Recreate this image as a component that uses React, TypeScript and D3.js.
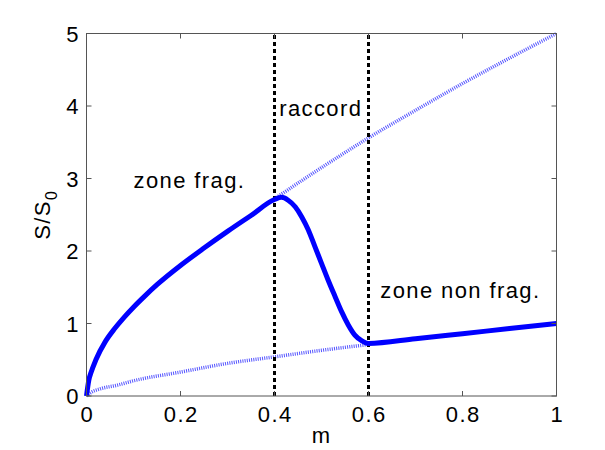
import React from "react";
import * as d3 from "d3";

// Data
const mFrag = [0, 0.005, 0.01, 0.02, 0.04, 0.06, 0.08, 0.1, 0.125, 0.15, 0.2, 0.25, 0.3, 0.35, 0.4];
const sFrag = [0, 0.22, 0.33, 0.5, 0.75, 0.93, 1.085, 1.225, 1.385, 1.535, 1.8, 2.04, 2.27, 2.49, 2.71];

const mRaccord = [0.415, 0.429, 0.444, 0.458, 0.472, 0.486, 0.5, 0.514, 0.529, 0.543, 0.557, 0.571, 0.586, 0.6];
const sRaccord = [2.74, 2.7, 2.61, 2.47, 2.29, 2.06, 1.83, 1.6, 1.37, 1.16, 0.98, 0.84, 0.76, 0.725];

const mNonFrag = [0.7, 0.8, 0.9, 1.0];
const sNonFrag = [0.79, 0.86, 0.93, 1.0];

const mUpper = [0.4, 0.5, 0.6, 0.7, 0.8, 0.9, 1.0];
const sUpper = [2.72, 3.15, 3.56, 3.94, 4.31, 4.66, 5.0];

const mLower = [0, 0.01, 0.03, 0.066, 0.1, 0.2, 0.3, 0.4, 0.5, 0.6];
const sLower = [0, 0.05, 0.1, 0.15, 0.21, 0.33, 0.45, 0.54, 0.63, 0.71];

const boundaries = [0.4, 0.6];
const xTicks = [0, 0.2, 0.4, 0.6, 0.8, 1];
const xTickLabels = ["0", "0.2", "0.4", "0.6", "0.8", "1"];
const yTicks = [0, 1, 2, 3, 4, 5];
const yTickLabels = ["0", "1", "2", "3", "4", "5"];

const annotations = [
  { text: "zone frag.", m: 0.1, s: 2.87 },
  { text: "raccord", m: 0.41, s: 3.86 },
  { text: "zone non frag.", m: 0.625, s: 1.35 },
];

const W = 605;
const H = 450;
const left = 86.5;
const right = 556.5;
const top = 33.5;
const bottom = 396;

const font = "'Liberation Sans', Arial, Helvetica, sans-serif";
const fontSize = 22;
const ls = 1.4;

export default function App() {
  const x = d3.scaleLinear().domain([0, 1]).range([left, right]);
  const y = d3.scaleLinear().domain([0, 5]).range([bottom, top]);

  const solidPts: [number, number][] = [
    ...mFrag.map((m, i) => [m, sFrag[i]] as [number, number]),
    ...mRaccord.map((m, i) => [m, sRaccord[i]] as [number, number]),
    ...mNonFrag.map((m, i) => [m, sNonFrag[i]] as [number, number]),
  ];
  const upperPts = mUpper.map((m, i) => [m, sUpper[i]] as [number, number]);
  const lowerPts = mLower.map((m, i) => [m, sLower[i]] as [number, number]);

  const line = d3
    .line<[number, number]>()
    .x((d) => x(d[0]))
    .y((d) => y(d[1]))
    .curve(d3.curveMonotoneX);

  const axisColor = "#555";
  const tickLen = 5;

  return (
    <svg
      width={W}
      height={H}
      style={{ position: "absolute", left: 0, top: 0, background: "#fff" }}
      fontFamily={font}
    >
      <rect x={0} y={0} width={W} height={H} fill="#fff" />
      {/* dotted reference curves */}
      <path d={line(upperPts) || ""} fill="none" stroke="#2a2aff" strokeWidth={3.5} strokeDasharray="1 1.2" opacity={0.8} />
      <path d={line(lowerPts) || ""} fill="none" stroke="#2a2aff" strokeWidth={3.5} strokeDasharray="1 1.2" opacity={0.8} />
      {/* boundaries */}
      {boundaries.map((b) => (
        <line
          key={b}
          x1={x(b)}
          x2={x(b)}
          y1={y(0)}
          y2={y(5)}
          stroke="#000"
          strokeWidth={3}
          strokeDasharray="4 3"
        />
      ))}
      {/* main curve */}
      <path d={line(solidPts) || ""} fill="none" stroke="#0000ff" strokeWidth={5} strokeLinejoin="round" />
      {/* axes box */}
      <rect x={left} y={top} width={right - left} height={bottom - top} fill="none" stroke={axisColor} strokeWidth={1} />
      {xTicks.map((t, i) => (
        <g key={"xt" + t}>
          <line x1={x(t)} x2={x(t)} y1={bottom} y2={bottom - tickLen} stroke={axisColor} />
          <line x1={x(t)} x2={x(t)} y1={top} y2={top + tickLen} stroke={axisColor} />
          <text x={x(t) + ls / 2} y={422} textAnchor="middle" fontSize={fontSize} letterSpacing={ls} fill="#000">
            {xTickLabels[i]}
          </text>
        </g>
      ))}
      {yTicks.map((t, i) => (
        <g key={"yt" + t}>
          <line x1={left} x2={left + tickLen} y1={y(t)} y2={y(t)} stroke={axisColor} />
          <line x1={right} x2={right - tickLen} y1={y(t)} y2={y(t)} stroke={axisColor} />
          <text x={80} y={y(t) + 8} textAnchor="end" fontSize={fontSize} letterSpacing={ls} fill="#000">
            {yTickLabels[i]}
          </text>
        </g>
      ))}
      {/* axis labels */}
      <text x={(left + right) / 2} y={443} textAnchor="middle" fontSize={fontSize} letterSpacing={ls} fill="#000">
        m
      </text>
      <text
        transform={`translate(50, ${(top + bottom) / 2}) rotate(-90)`}
        textAnchor="middle"
        fontSize={fontSize}
        letterSpacing={ls}
        fill="#000"
      >
        S/S
        <tspan fontSize={16} dy={7}>0</tspan>
      </text>
      {/* annotations */}
      {annotations.map((a) => (
        <text key={a.text} x={x(a.m)} y={y(a.s)} fontSize={fontSize} letterSpacing={ls} fill="#000">
          {a.text}
        </text>
      ))}
    </svg>
  );
}
